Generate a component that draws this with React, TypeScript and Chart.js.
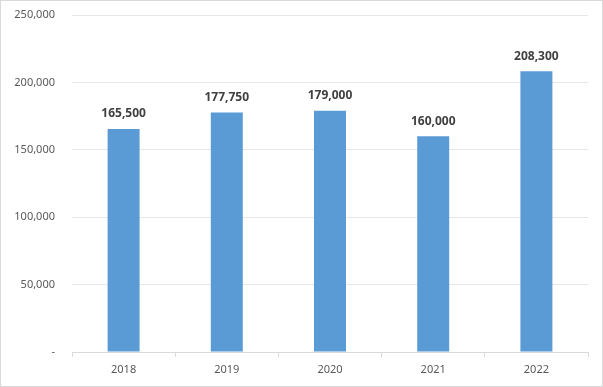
import React, { useEffect, useRef } from "react";
import { Chart, registerables } from "chart.js";

Chart.register(...registerables);

const categories = ["2018", "2019", "2020", "2021", "2022"];
const values = [165500, 177750, 179000, 160000, 208300];
const yTicks = [0, 50000, 100000, 150000, 200000, 250000];

const fmt = (v: number) => (v === 0 ? "-" : v.toLocaleString("en-US"));

const valueLabels = {
  id: "valueLabels",
  afterDatasetsDraw(chart: any) {
    const ctx = chart.ctx;
    const meta = chart.getDatasetMeta(0);
    ctx.save();
    ctx.font = "bold 12px 'Noto Sans', sans-serif";
    ctx.fillStyle = "#404040";
    ctx.textAlign = "center";
    ctx.textBaseline = "middle";
    meta.data.forEach((bar: any, i: number) => {
      ctx.fillText(fmt(values[i]), bar.x, bar.y - 15);
    });
    ctx.restore();
  },
};

export default function App() {
  const ref = useRef<HTMLCanvasElement>(null);
  useEffect(() => {
    document.body.style.margin = "0";
    const chart = new Chart(ref.current!, {
      type: "bar",
      data: {
        labels: categories,
        datasets: [
          {
            data: values,
            backgroundColor: "#5b9bd5",
            categoryPercentage: 1,
            barPercentage: 0.31,
          },
        ],
      },
      options: {
        animation: false,
        responsive: false,
        maintainAspectRatio: false,
        layout: { padding: { left: 0, top: 14, right: 14, bottom: 0 } },
        plugins: { legend: { display: false }, tooltip: { enabled: false } },
        scales: {
          x: {
            grid: {
              drawOnChartArea: false,
              drawTicks: true,
              tickLength: 5,
              color: "#d9d9d9",
              offset: true,
            },
            border: { color: "#d9d9d9" },
            ticks: {
              color: "#595959",
              font: { family: "'Noto Sans', sans-serif", size: 11 },
              padding: 6,
            },
            afterFit: (s: any) => {
              s.height = 34;
            },
          },
          y: {
            min: 0,
            max: 250000,
            afterBuildTicks: (s: any) => {
              s.ticks = yTicks.map((v) => ({ value: v }));
            },
            grid: { color: "#e7e7e7", drawTicks: false },
            border: { display: false },
            ticks: {
              color: "#595959",
              font: { family: "'Noto Sans', sans-serif", size: 11 },
              padding: 17,
              callback: (v: any) => fmt(Number(v)),
            },
            afterFit: (s: any) => {
              s.width = 71;
              s.paddingTop = 0;
              s.paddingBottom = 0;
            },
          },
        },
      },
      plugins: [valueLabels],
    });
    return () => chart.destroy();
  }, []);
  return (
    <div
      style={{
        position: "absolute",
        left: 0,
        top: 0,
        width: 603,
        height: 387,
        boxSizing: "border-box",
        border: "1px solid #d9d9d9",
        background: "#fff",
      }}
    >
      <canvas ref={ref} width={601} height={385} style={{ display: "block" }} />
    </div>
  );
}
